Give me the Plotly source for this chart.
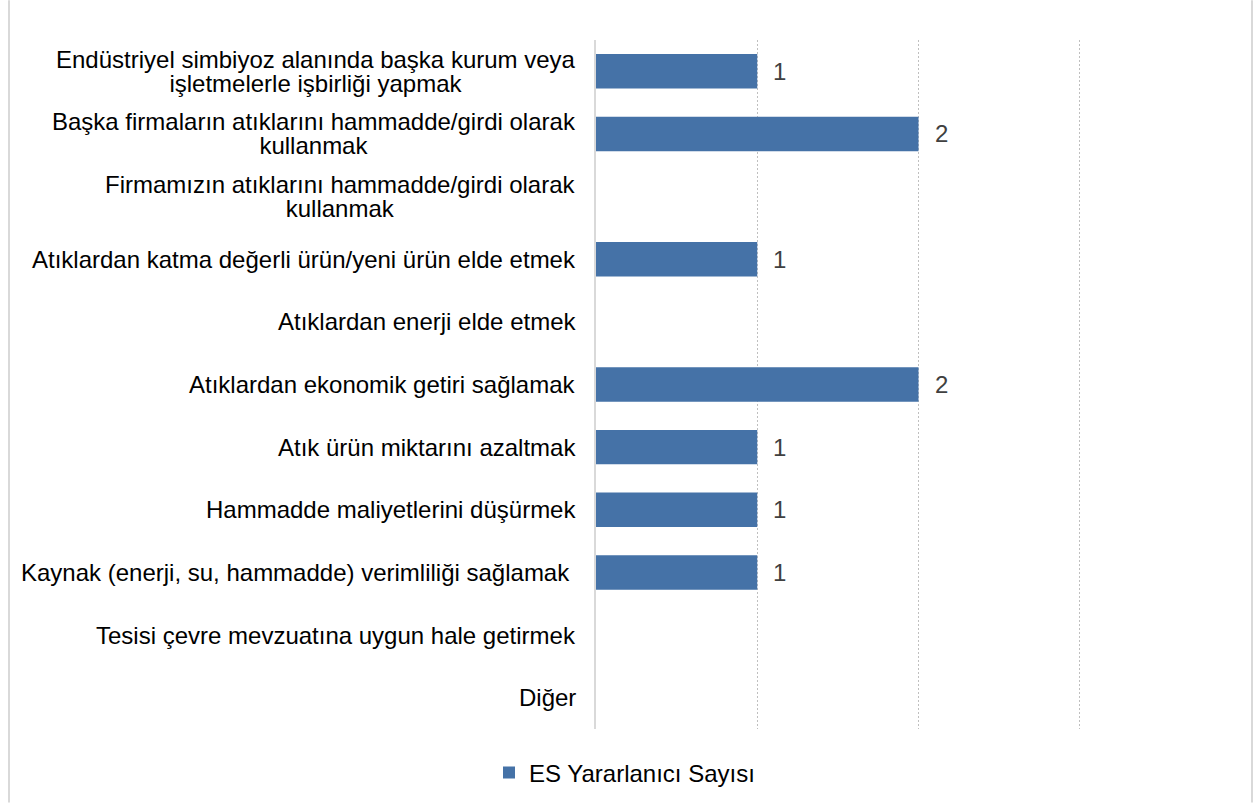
import plotly.graph_objects as go

categories = [
    "Endüstriyel simbiyoz alanında başka kurum veya<br>işletmelerle işbirliği yapmak",
    "Başka firmaların atıklarını hammadde/girdi olarak<br>kullanmak",
    "Firmamızın atıklarını hammadde/girdi olarak<br>kullanmak",
    "Atıklardan katma değerli ürün/yeni ürün elde etmek",
    "Atıklardan enerji elde etmek",
    "Atıklardan ekonomik getiri sağlamak",
    "Atık ürün miktarını azaltmak",
    "Hammadde maliyetlerini düşürmek",
    "Kaynak (enerji, su, hammadde) verimliliği sağlamak ",
    "Tesisi çevre mevzuatına uygun hale getirmek",
    "Diğer",
]
values = [1, 2, None, 1, None, 2, 1, 1, 1, None, None]
series_name = "ES Yararlanıcı Sayısı"

W, H = 1255, 807
ml, mr, mt, mb = 596, 14, 40, 74
FONT = "Liberation Sans, Arial, sans-serif"
FS = 24
LINE_H = 24

fig = go.Figure()
fig.add_trace(go.Bar(
    y=categories,
    x=values,
    orientation="h",
    name=series_name,
    marker=dict(color="#4572A7", line=dict(width=0)),
    showlegend=True,
))

# category labels: centered lines, tight line spacing (base font sets spacing)
for c in categories:
    lines = c.split("<br>")
    txt = "<br>".join(f'<span style="font-size:{FS}px">{ln}</span>' for ln in lines)
    fig.add_annotation(
        x=0, y=c, xref="x", yref="y",
        text=txt, showarrow=False,
        xanchor="right", yanchor="middle", align="center",
        xshift=-18,
        font=dict(family=FONT, size=LINE_H / 1.3, color="#000000"),
    )

# value labels
for c, v in zip(categories, values):
    if v is None:
        continue
    fig.add_annotation(
        x=v, y=c, xref="x", yref="y",
        text=str(v), showarrow=False,
        xanchor="left", yanchor="middle", xshift=14,
        font=dict(family=FONT, size=FS, color="#404040"),
    )

pw = W - ml - mr
ph = H - mt - mb
# outer border (left and right)
for px in (9, 1252):
    xp = (px - ml) / pw
    fig.add_shape(type="line", xref="paper", yref="paper",
                  x0=xp, x1=xp, y0=-mb / ph, y1=1 + mt / ph,
                  line=dict(color="#d9d9d9", width=2))

fig.update_layout(
    width=W, height=H,
    margin=dict(l=ml, r=mr, t=mt, b=mb),
    paper_bgcolor="white",
    plot_bgcolor="white",
    bargap=0.45,
    font=dict(family=FONT, size=FS, color="#000000"),
    xaxis=dict(
        range=[0, 4],
        dtick=1,
        showticklabels=False,
        showgrid=True,
        gridcolor="#bfbfbf",
        griddash="2px,2px",
        gridwidth=1,
        zeroline=False,
        showline=False,
        fixedrange=True,
    ),
    yaxis=dict(
        categoryorder="array",
        categoryarray=categories[::-1],
        showticklabels=False,
        showgrid=False,
        showline=True,
        linecolor="#d9d9d9",
        linewidth=2,
        zeroline=False,
        ticks="",
    ),
    legend=dict(
        orientation="h",
        x=(489 - ml) / pw, xanchor="left",
        y=-0.031, yanchor="top",
        font=dict(family=FONT, size=FS, color="#000000"),
        traceorder="normal",
    ),
)

fig.write_html("out.html", config={"displayModeBar": False},
               post_script="document.body.style.margin='0';")
